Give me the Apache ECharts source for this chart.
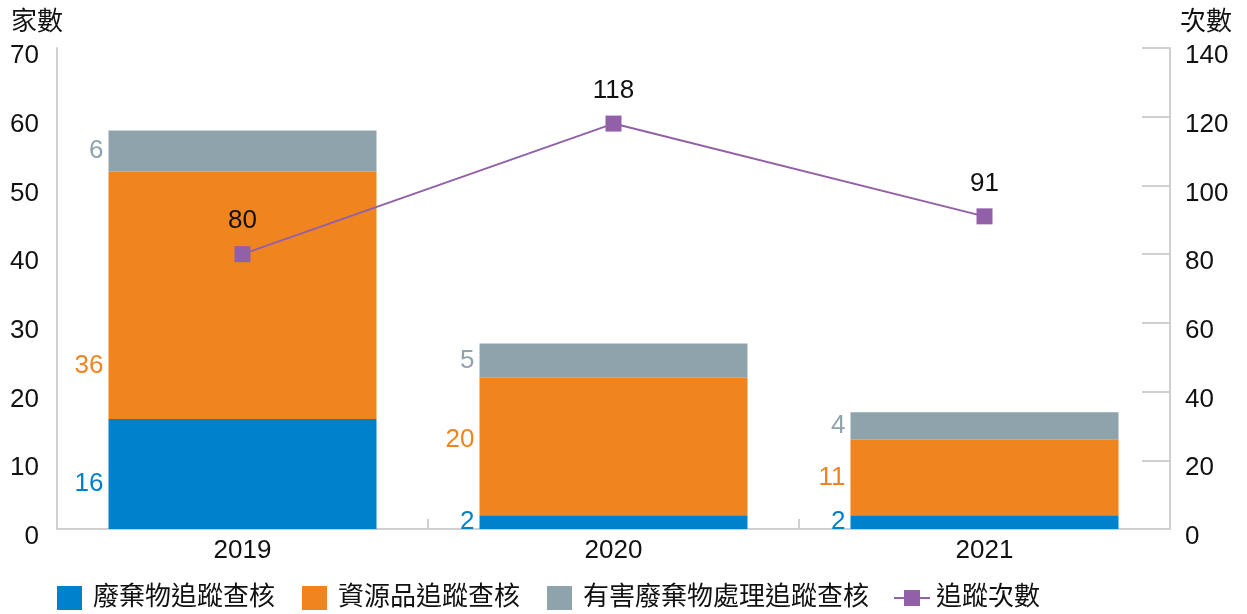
<!DOCTYPE html>
<html><head><meta charset="utf-8">
<script src="https://cdn.jsdelivr.net/npm/echarts@6/dist/echarts.min.js"></script>
<style>html,body{margin:0;padding:0;background:#fff}#c{width:1247px;height:614px}</style>
</head><body><div id="c"></div>
<script>
const categories = ['2019', '2020', '2021'];
const wasteTracking = [16, 2, 2];
const resourceTracking = [36, 20, 11];
const hazardTracking = [6, 5, 4];
const trackingCounts = [80, 118, 91];
const seriesNames = ['廢棄物追蹤查核', '資源品追蹤查核', '有害廢棄物處理追蹤查核', '追蹤次數'];
const leftAxisTitle = '家數';
const rightAxisTitle = '次數';

const FONT = "'Liberation Sans', 'Noto Sans CJK TC', Arial, sans-serif";
const BLUE = '#0081cc', ORANGE = '#f0841f', GRAY = '#8fa3ad', PURPLE = '#9160a8';
const AXIS = '#d0d0d0';
const NUM = 26;

function barSeries(name, values, color, offsets) {
  return {
    name: name, type: 'bar', stack: 'total', barWidth: 268,
    itemStyle: { color: color },
    label: { show: true, position: 'left', distance: 5, color: color, fontSize: NUM, fontFamily: FONT },
    data: values.map((v, i) => offsets && offsets[i] ? { value: v, label: { offset: offsets[i] } } : v)
  };
}

const chart = echarts.init(document.getElementById('c'), null, { renderer: 'canvas' });
chart.setOption({
  animation: false,
  textStyle: { fontFamily: FONT },
  title: [
    { text: leftAxisTitle, left: 6, top: 5, textStyle: { fontSize: 26, fontWeight: 'normal', color: '#111', fontFamily: FONT } },
    { text: rightAxisTitle, right: 10, top: 5, textStyle: { fontSize: 26, fontWeight: 'normal', color: '#111', fontFamily: FONT } }
  ],
  grid: { left: 57, right: 77, top: 48, bottom: 85, containLabel: false },
  legend: [
    { data: seriesNames.slice(0, 3), left: 57, top: 585, padding: 0, itemWidth: 25, itemHeight: 24, itemGap: 27,
      icon: 'rect', textStyle: { fontSize: 26, color: '#111', fontFamily: FONT, padding: [0, 0, 0, 6] } },
    { data: [seriesNames[3]], left: 893, top: 585, padding: 0, itemWidth: 36, itemHeight: 20,
      textStyle: { fontSize: 26, color: '#111', fontFamily: FONT, padding: [0, 0, 0, 1] } }
  ],
  xAxis: {
    type: 'category', data: categories,
    axisLine: { lineStyle: { color: AXIS, width: 2 } },
    axisTick: { show: true, inside: true, length: 10, lineStyle: { color: AXIS, width: 2 } },
    axisLabel: { fontSize: NUM, color: '#111', margin: 9, fontFamily: FONT }
  },
  yAxis: [
    { type: 'value', min: 0, max: 70, interval: 10, position: 'left',
      axisLine: { show: true, lineStyle: { color: AXIS, width: 2 } },
      axisTick: { show: false }, splitLine: { show: false },
      axisLabel: { fontSize: NUM, color: '#111', margin: 18, fontFamily: FONT, verticalAlign: 'top', lineHeight: 16 } },
    { type: 'value', min: 0, max: 140, interval: 20, position: 'right',
      axisLine: { show: true, lineStyle: { color: AXIS, width: 2 } },
      axisTick: { show: true, inside: true, length: 28, lineStyle: { color: AXIS, width: 2 } },
      splitLine: { show: false },
      axisLabel: { fontSize: NUM, color: '#111', margin: 15, fontFamily: FONT, verticalAlign: 'top', lineHeight: 16 } }
  ],
  series: [
    barSeries(seriesNames[0], wasteTracking, BLUE, [[0, 10], null, null]),
    barSeries(seriesNames[1], resourceTracking, ORANGE, [[0, 70], [0, -7], null]),
    barSeries(seriesNames[2], hazardTracking, GRAY, null),
    { name: seriesNames[3], type: 'line', yAxisIndex: 1, data: trackingCounts,
      symbol: 'rect', symbolSize: 16,
      lineStyle: { color: PURPLE, width: 2 }, itemStyle: { color: PURPLE },
      label: { show: true, position: 'top', distance: 12, fontSize: NUM, color: '#111', fontFamily: FONT } }
  ]
});
</script></body></html>
